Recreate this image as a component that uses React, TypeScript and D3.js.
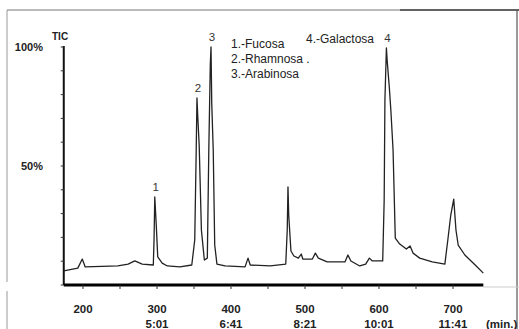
import React from 'react';
import * as d3 from 'd3';

// chromatogram trace: scan number, relative intensity (%)
const scans = [174, 193, 199, 203, 247, 261, 270, 280, 295, 296, 297, 299, 301, 307, 314, 331, 347, 351, 353, 354, 355, 357, 360, 364, 368, 370, 372, 373, 374, 376, 378, 381, 392, 419, 423, 426, 453, 474, 476, 477, 478, 481, 485, 491, 495, 497, 510, 514, 518, 530, 554, 558, 562, 574, 582, 587, 591, 605, 607, 608, 610, 611, 614, 616, 619, 622, 628, 637, 642, 646, 655, 672, 689, 693, 697, 701, 704, 707, 716, 730, 741];
const intensity = [5.9, 7.1, 10.9, 7.6, 8.0, 8.8, 10.1, 8.8, 8.4, 18.9, 37.0, 25.2, 11.8, 9.2, 8.0, 7.6, 8.4, 18.9, 56.7, 78.6, 71.4, 58.8, 23.1, 10.5, 11.3, 56.7, 92.4, 100, 76.1, 56.7, 16.8, 8.8, 8.0, 7.6, 11.3, 8.4, 8.0, 8.8, 23.1, 41.2, 29.4, 14.3, 12.2, 11.3, 13.0, 10.9, 10.9, 13.4, 11.3, 9.7, 9.7, 12.6, 10.1, 8.0, 8.8, 11.3, 10.1, 10.1, 35.7, 77.7, 99.6, 94.5, 82.8, 73.5, 56.7, 19.7, 17.2, 15.1, 16.4, 13.4, 11.3, 9.7, 8.8, 18.9, 29.4, 36.1, 23.1, 16.8, 12.6, 8.4, 5.0];

// peak labels
const peakNames = ['1', '2', '3', '4'];
const peakScans = [297, 354, 373, 610];
const peakTops = [37.0, 78.6, 100, 99.6];

const legend = ['1.-Fucosa', '2.-Rhamnosa .', '3.-Arabinosa', '4.-Galactosa'];

const xTickValues = [200, 300, 400, 500, 600, 700];
const xTimeLabels = ['', '5:01', '6:41', '8:21', '10:01', '11:41'];
const yTickLabels = ['100%', '50%'];
const yTickValues = [100, 50];

export default function App() {
  const W = 519;
  const H = 329;
  const x = d3.scaleLinear().domain([200, 700]).range([83, 453]);
  const y = d3.scaleLinear().domain([0, 100]).range([285, 47]);
  const pts: [number, number][] = scans.map((s, i) => [s, intensity[i]]);
  const line = d3
    .line<[number, number]>()
    .x((d) => x(d[0]))
    .y((d) => y(d[1]));

  const x0 = x(174);
  const x1 = x(741);
  const minor = d3.range(200, 750, 50);
  const yMinor = d3.range(0, 101, 10);
  const font = '"Liberation Sans", Arial, sans-serif';

  return (
    <svg
      width={W}
      height={H}
      style={{ position: 'absolute', left: 0, top: 0, background: '#fff' }}
    >
      {/* frame */}
      <line x1={7} y1={10} x2={519} y2={10} stroke="#777" strokeWidth={1} />
      <line x1={400} y1={10} x2={519} y2={10} stroke="#444" strokeWidth={1.3} />
      <line x1={7} y1={10} x2={7} y2={282} stroke="#999" strokeWidth={1} />
      <line x1={7} y1={291} x2={7} y2={329} stroke="#999" strokeWidth={1} />
      <line x1={517} y1={10} x2={517} y2={329} stroke="#555" strokeWidth={1.2} />
      <line x1={x1} y1={287} x2={519} y2={287} stroke="#ccc" strokeWidth={1} />

      {/* y axis */}
      <line x1={x0} y1={y(100) - 1} x2={x0} y2={y(0)} stroke="#111" strokeWidth={2} />
      {yMinor.map((v) => (
        <line key={v} x1={x0 - 3} y1={y(v)} x2={x0} y2={y(v)} stroke="#333" strokeWidth={1} />
      ))}
      {yTickLabels.map((t, i) => (
        <text
          key={t}
          x={43}
          y={y(yTickValues[i]) + 4}
          textAnchor="end"
          fontFamily={font}
          fontWeight="bold"
          fontSize={11}
          fill="#222"
        >
          {t}
        </text>
      ))}
      <text x={52} y={40} fontFamily={font} fontWeight="bold" fontSize={10} fill="#222">
        TIC
      </text>

      {/* x axis */}
      <line x1={x0} y1={285} x2={x1} y2={285} stroke="#000" strokeWidth={3} />
      {minor.map((v) => (
        <line key={v} x1={x(v)} y1={285} x2={x(v)} y2={289} stroke="#333" strokeWidth={1} />
      ))}
      {xTickValues.map((v, i) => (
        <g key={v} fontFamily={font} fontWeight="bold" fontSize={11.5} fill="#222" textAnchor="middle">
          <text x={x(v)} y={313}>
            {v}
          </text>
          {xTimeLabels[i] && (
            <text x={x(v)} y={328}>
              {xTimeLabels[i]}
            </text>
          )}
        </g>
      ))}
      <text x={486} y={328} fontFamily={font} fontWeight="bold" fontSize={11.5} fill="#222">
        (min.)
      </text>

      {/* trace */}
      <path d={line(pts) || ''} fill="none" stroke="#222" strokeWidth={1.3} strokeLinejoin="round" />

      {/* peak numbers */}
      {peakNames.map((n, i) => (
        <text
          key={n}
          x={x(peakScans[i]) + 1}
          y={y(peakTops[i]) - 6}
          textAnchor="middle"
          fontFamily={font}
          fontSize={11.5}
          fill="#333"
        >
          {n}
        </text>
      ))}

      {/* legend */}
      {legend.slice(0, 3).map((t, i) => (
        <text key={t} x={231} y={48 + i * 15} fontFamily={font} fontSize={12} fill="#222">
          {t}
        </text>
      ))}
      <text x={306} y={43} fontFamily={font} fontSize={12} fill="#222">
        {legend[3]}
      </text>
    </svg>
  );
}
